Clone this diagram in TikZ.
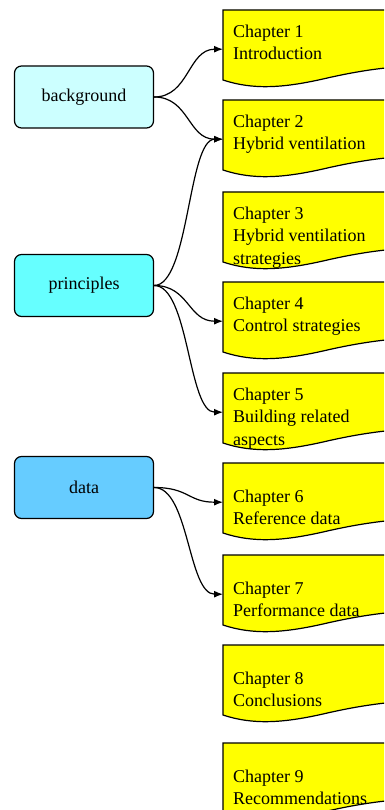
\documentclass[tikz,border=0pt]{standalone}
\usepackage{fontspec}
\setmainfont{Liberation Serif}
\usepackage{tikz}
\usetikzlibrary{arrows.meta}
\tikzset{>={Latex[length=9pt,width=7pt]}}
\definecolor{pageyellow}{HTML}{FFFF00}
\definecolor{backgroundcyan}{HTML}{CCFFFF}
\definecolor{principlescyan}{HTML}{66FFFF}
\definecolor{datablue}{HTML}{66CCFF}
\tikzset{
  topic/.style={draw, line width=1.2pt, rounded corners=7pt, minimum width=139pt, minimum height=62pt, inner sep=0pt, font=\fontsize{18}{22.5}\selectfont},
  page/.style={anchor=north west, minimum width=190pt, minimum height=78pt, inner sep=0pt},
  sheet/.style={draw, fill=pageyellow, line width=1.2pt},
  pagetext/.style={anchor=north west, align=left, inner sep=0pt, font=\fontsize{18}{22.5}\selectfont},
  link/.style={->, line width=1.2pt}
}
\newcommand*{\sheetpath}{(0,0) -- (190,0) -- (190,56) .. controls (160,57) and (130,62) .. (100,69) .. controls (60,78) and (30,80) .. (0,70) -- cycle}

\begin{document}
\begin{tikzpicture}[x=1pt, y=-1pt]
            \useasboundingbox (0,0) rectangle (384,810);
            \clip (0,0) rectangle (384,810);
            \node[topic, fill=backgroundcyan] (background) at (84,97) {background};
            \node[topic, fill=principlescyan] (principles) at (84,285.5) {principles};
            \node[topic, fill=datablue] (data) at (84,487.5) {data};
            \node[page] (ch1) at (223,10) {};
            \node[page] (ch2) at (223,100) {};
            \node[page] (ch3) at (223,192) {};
            \node[page] (ch4) at (223,282) {};
            \node[page] (ch5) at (223,373) {};
            \node[page] (ch6) at (223,463) {};
            \node[page] (ch7) at (223,555) {};
            \node[page] (ch8) at (223,645) {};
            \node[page] (ch9) at (223,743) {};
            \draw[sheet, shift={(ch1.north west)}] \sheetpath;
            \draw[sheet, shift={(ch2.north west)}] \sheetpath;
            \draw[sheet, shift={(ch3.north west)}] \sheetpath;
            \draw[sheet, shift={(ch4.north west)}] \sheetpath;
            \draw[sheet, shift={(ch5.north west)}] \sheetpath;
            \draw[sheet, shift={(ch6.north west)}] \sheetpath;
            \draw[sheet, shift={(ch7.north west)}] \sheetpath;
            \draw[sheet, shift={(ch8.north west)}] \sheetpath;
            \draw[sheet, shift={(ch9.north west)}] \sheetpath;
            \node[pagetext] (ch1text) at ([xshift=10pt, yshift=-14.5pt]ch1.north west) {Chapter 1\\Introduction};
            \node[pagetext] (ch2text) at ([xshift=10pt, yshift=-14.5pt]ch2.north west) {Chapter 2\\Hybrid ventilation};
            \node[pagetext] (ch3text) at ([xshift=10pt, yshift=-14.5pt]ch3.north west) {Chapter 3\\Hybrid ventilation\\strategies};
            \node[pagetext] (ch4text) at ([xshift=10pt, yshift=-14.5pt]ch4.north west) {Chapter 4\\Control strategies};
            \node[pagetext] (ch5text) at ([xshift=10pt, yshift=-14.5pt]ch5.north west) {Chapter 5\\Building related\\aspects};
            \node[pagetext] (ch6text) at ([xshift=10pt, yshift=-26.5pt]ch6.north west) {Chapter 6\\Reference data};
            \node[pagetext] (ch7text) at ([xshift=10pt, yshift=-26.5pt]ch7.north west) {Chapter 7\\Performance data};
            \node[pagetext] (ch8text) at ([xshift=10pt, yshift=-26.5pt]ch8.north west) {Chapter 8\\Conclusions};
            \node[pagetext] (ch9text) at ([xshift=10pt, yshift=-26.5pt]ch9.north west) {Chapter 9\\Recommendations};
            \draw[link] (background.east) .. controls +(35,0) and +(-35,0) .. (ch1.west);
            \draw[link] (background.east) .. controls +(35,0) and +(-35,0) .. (ch2.west);
            \draw[link] (principles.east) .. controls +(35,0) and +(-35,0) .. (ch2.west);
            \draw[link] (principles.east) .. controls +(35,0) and +(-35,0) .. (ch4.west);
            \draw[link] (principles.east) .. controls +(35,0) and +(-35,0) .. (ch5.west);
            \draw[link] (data.east) .. controls +(35,0) and +(-35,0) .. (ch6.west);
            \draw[link] (data.east) .. controls +(35,0) and +(-35,0) .. (ch7.west);
        \end{tikzpicture}
\end{document}
